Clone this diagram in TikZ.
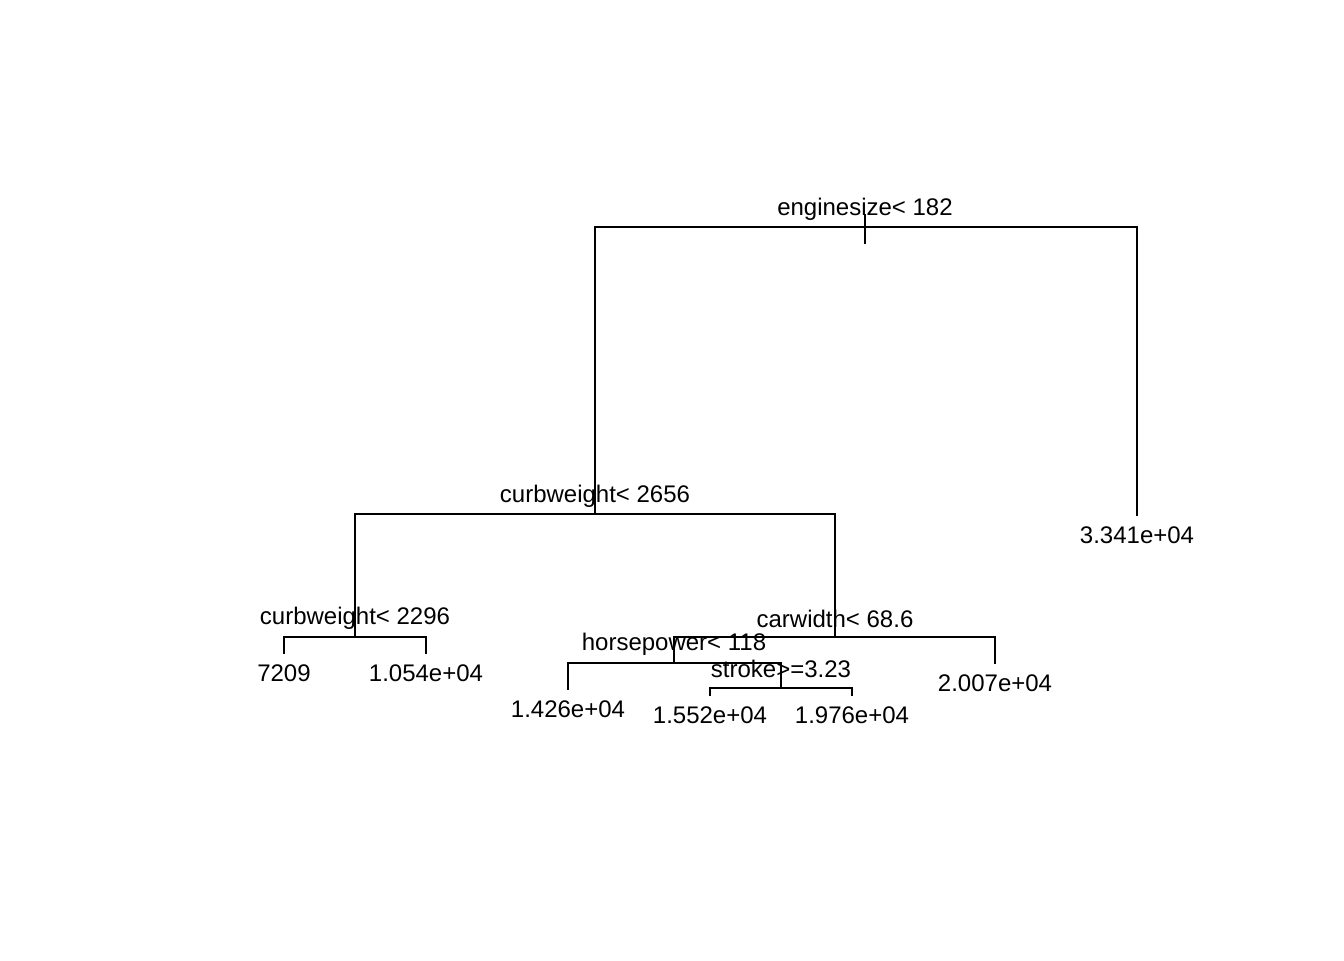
\documentclass[tikz,border=0pt]{standalone}
\usepackage{fontspec}
\setmainfont{Liberation Sans}
\begin{document}
\begin{tikzpicture}[x=0.5pt,y=-0.5pt,
  branch/.style={line width=0.8pt, line cap=rect},
  lab/.style={anchor=base, inner sep=0pt, font=\fontsize{12}{14}\selectfont}]
\useasboundingbox (0,0) rectangle (1344,960);
% internal nodes (position of horizontal line)
\coordinate (n1) at (865,227);
\coordinate (n2) at (595,514);
\coordinate (n4) at (355,637);
\coordinate (n5) at (835,637);
\coordinate (n10) at (674,663);
\coordinate (n21) at (781,688);
% leaves
\coordinate (n3) at (1137,515);
\coordinate (n8) at (284,653);
\coordinate (n9) at (426,653);
\coordinate (n20) at (568,689);
\coordinate (n42) at (710,695);
\coordinate (n43) at (852,695);
\coordinate (n11) at (995,663);
% root tick
\coordinate (t1) at (865,215);
\coordinate (t2) at (865,243);
\draw[branch] (t1) -- (t2);
% branches
\draw[branch] (n2) |- (n1) -| (n3);
\draw[branch] (n4) |- (n2) -| (n5);
\draw[branch] (n8) |- (n4) -| (n9);
\draw[branch] (n10) |- (n5) -| (n11);
\draw[branch] (n20) |- (n10) -| (n21);
\draw[branch] (n42) |- (n21) -| (n43);
% split labels
\node[lab] (s1) at (865,215) {enginesize< 182};
\node[lab] (s2) at (595,502) {curbweight< 2656};
\node[lab] (s4) at (355,624) {curbweight< 2296};
\node[lab] (s5) at (835,627) {carwidth< 68.6};
\node[lab] (s10) at (674,650) {horsepower< 118};
\node[lab] (s21) at (781,677) {stroke>=3.23};
% leaf labels
\node[lab] (v3) at (1137,543) {3.341e+04};
\node[lab] (v8) at (284,681) {7209};
\node[lab] (v9) at (426,681) {1.054e+04};
\node[lab] (v20) at (568,717) {1.426e+04};
\node[lab] (v42) at (710,723) {1.552e+04};
\node[lab] (v43) at (852,723) {1.976e+04};
\node[lab] (v11) at (995,691) {2.007e+04};
\end{tikzpicture}
\end{document}
